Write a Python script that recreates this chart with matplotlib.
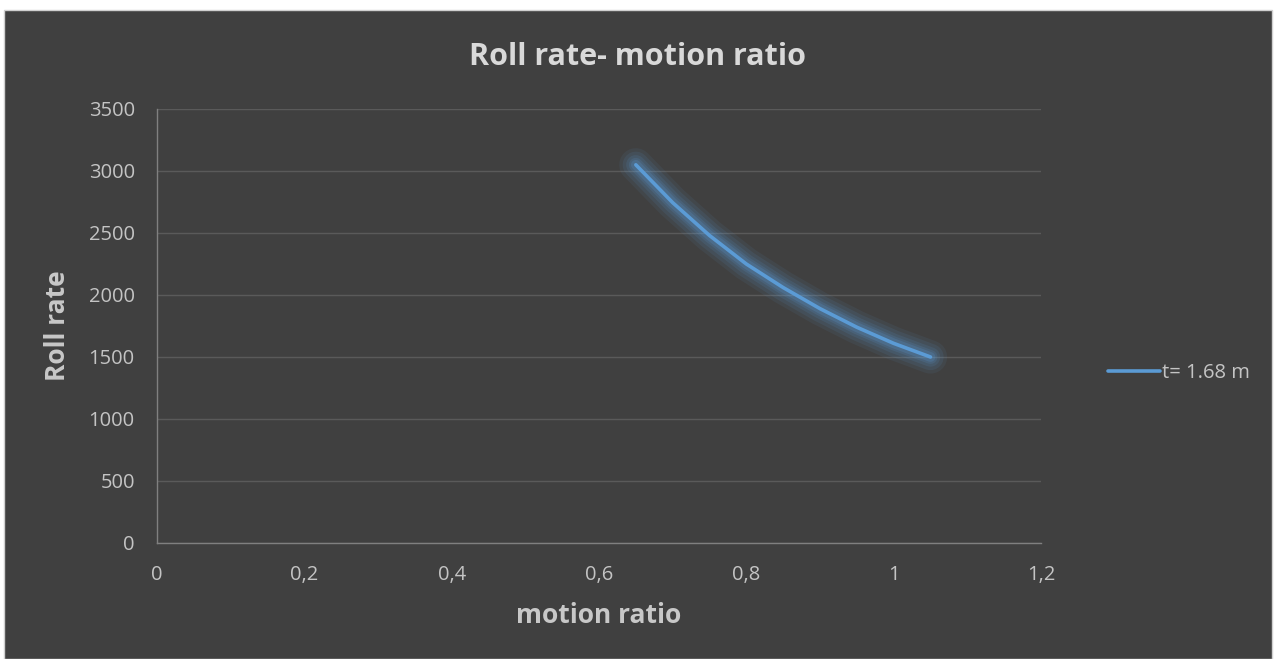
import matplotlib.pyplot as plt
from matplotlib.patches import Rectangle

# roll rate vs motion ratio, track t = 1.68 m
motion_ratio = [0.65, 0.70, 0.75, 0.80, 0.85, 0.90, 0.95, 1.00, 1.05]
roll_rate = [3050, 2745, 2480, 2250, 2060, 1890, 1740, 1610, 1500]
series_label = "t= 1.68 m"

x_ticks = [0, 0.2, 0.4, 0.6, 0.8, 1.0, 1.2]
x_tick_labels = ["0", "0,2", "0,4", "0,6", "0,8", "1", "1,2"]
y_ticks = [0, 500, 1000, 1500, 2000, 2500, 3000, 3500]

plt.rcParams['font.family'] = ['Open Sans', 'DejaVu Sans']
bg = '#404040'
line_col = '#5B9BD5'

fig = plt.figure(figsize=(12.74, 6.59), dpi=100, facecolor='white')
# dark chart area with a thin light frame
fig.patches.append(Rectangle((4 / 1274, 0), 1268 / 1274, 1 - 10 / 659,
                             transform=fig.transFigure, facecolor=bg,
                             edgecolor='#d0d0d0', linewidth=1.0, zorder=-1))

ax = fig.add_axes([157 / 1274, 1 - 543 / 659, (1041 - 157) / 1274, (543 - 109) / 659])
ax.set_facecolor(bg)

# soft glow under the line
for w, a in [(24, 0.08), (19, 0.1), (14, 0.12), (10, 0.15), (7, 0.2)]:
    ax.plot(motion_ratio, roll_rate, color=line_col, linewidth=w, alpha=a,
            solid_capstyle='round', solid_joinstyle='round')
ax.plot(motion_ratio, roll_rate, color=line_col, linewidth=2.6,
        solid_capstyle='round', solid_joinstyle='round', label=series_label)

ax.set_xlim(0, 1.2)
ax.set_ylim(0, 3500)
ax.set_xticks(x_ticks)
ax.set_xticklabels(x_tick_labels)
ax.set_yticks(y_ticks)
ax.grid(axis='y', color='#5a5a5a', linewidth=1.0)
ax.set_axisbelow(True)
for s in ['top', 'right']:
    ax.spines[s].set_visible(False)
for s in ['left', 'bottom']:
    ax.spines[s].set_color('#808080')
    ax.spines[s].set_linewidth(1.0)
ax.tick_params(length=0, colors='#c4c4c4', labelsize=14.5)
ax.tick_params(axis='x', pad=16)
ax.tick_params(axis='y', pad=16)

ax.set_xlabel('motion ratio', fontsize=19, fontweight='bold', color='#c8c8c8', va='center')
ax.set_ylabel('Roll rate', fontsize=19, fontweight='bold', color='#c8c8c8', va='center')
ax.xaxis.set_label_coords(0.5, -0.166)
ax.yaxis.set_label_coords(-0.112, 0.5)
fig.text(638 / 1274, 1 - 57 / 659, 'Roll rate- motion ratio', ha='center', va='center',
         fontsize=22, fontweight='bold', color='#d9d9d9')

leg = ax.legend(loc='center left', bbox_to_anchor=(1.055, 0.392), frameon=False,
                fontsize=14.5, handlelength=2.6, handletextpad=0.1, labelcolor='#c4c4c4')

fig.savefig('out.png', dpi=100, facecolor='white')
